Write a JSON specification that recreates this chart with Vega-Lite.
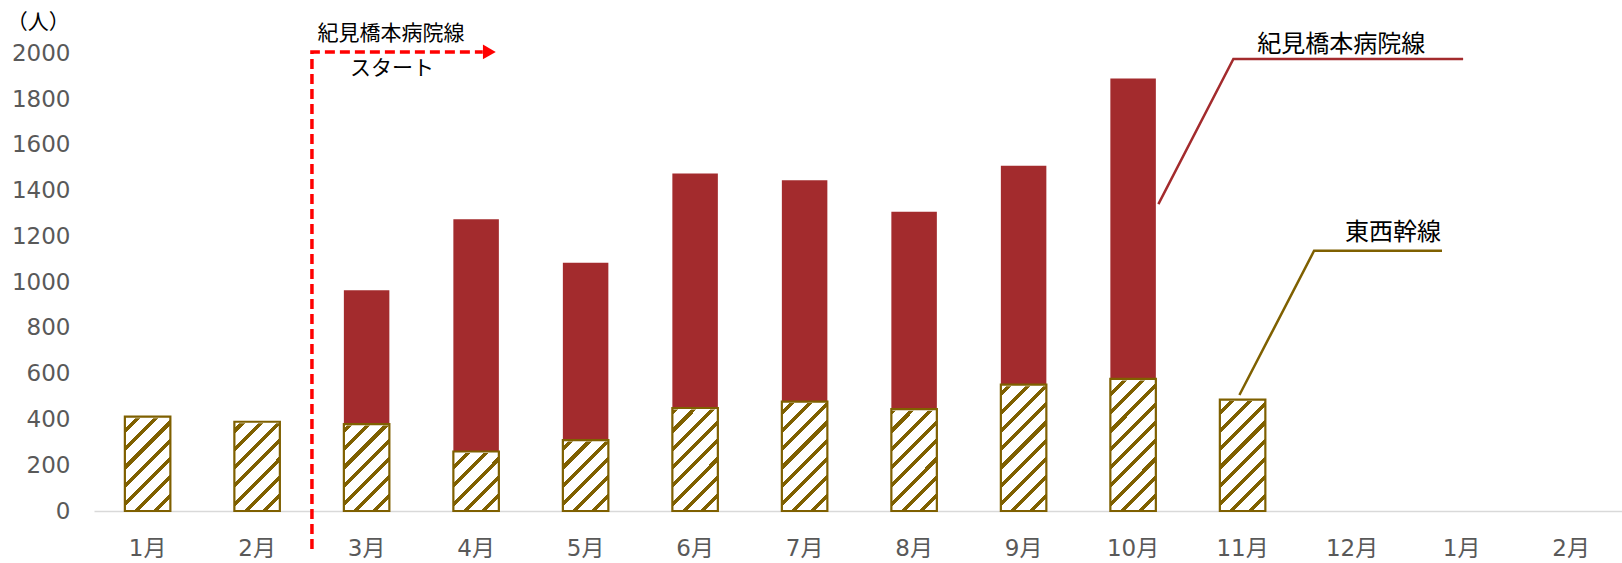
{
  "$schema": "https://vega.github.io/schema/vega-lite/v6.json",
  "width": 1528,
  "height": 457.7,
  "autosize": {"type": "none"},
  "padding": {"left": 94, "top": 53.3, "right": 0, "bottom": 52},
  "background": "white",
  "config": {"view": {"stroke": null}},
  "datasets": {
    "bars": [
      {"m": "1月", "line": "東西幹線", "v": 412},
      {"m": "2月", "line": "東西幹線", "v": 390},
      {"m": "3月", "line": "東西幹線", "v": 380},
      {"m": "3月", "line": "紀見橋本病院線", "v": 585},
      {"m": "4月", "line": "東西幹線", "v": 260},
      {"m": "4月", "line": "紀見橋本病院線", "v": 1015},
      {"m": "5月", "line": "東西幹線", "v": 310},
      {"m": "5月", "line": "紀見橋本病院線", "v": 775},
      {"m": "6月", "line": "東西幹線", "v": 450},
      {"m": "6月", "line": "紀見橋本病院線", "v": 1025},
      {"m": "7月", "line": "東西幹線", "v": 478},
      {"m": "7月", "line": "紀見橋本病院線", "v": 967},
      {"m": "8月", "line": "東西幹線", "v": 445},
      {"m": "8月", "line": "紀見橋本病院線", "v": 863},
      {"m": "9月", "line": "東西幹線", "v": 552},
      {"m": "9月", "line": "紀見橋本病院線", "v": 957},
      {"m": "10月", "line": "東西幹線", "v": 577},
      {"m": "10月", "line": "紀見橋本病院線", "v": 1313},
      {"m": "11月", "line": "東西幹線", "v": 487}
    ]
  },
  "resolve": {"scale": {"x": "independent"}, "axis": {"x": "independent"}},
  "layer": [
    {
      "data": {"name": "bars"},
      "encoding": {
        "x": {
          "field": "m",
          "type": "nominal",
          "title": null,
          "scale": {
            "domain": ["1月", "2月", "3月", "4月", "5月", "6月", "7月", "8月", "9月", "10月", "11月", "12月", "1月_2", "2月_2"],
            "paddingInner": 0.5845,
            "paddingOuter": 0.2695,
            "align": 0.523
          },
          "axis": {
            "labelExpr": "split(datum.label, '_')[0]",
            "labelAngle": 0,
            "ticks": false,
            "domainColor": "#D9D9D9",
            "domainWidth": 1.5,
            "labelColor": "#595959",
            "labelFont": "DejaVu Sans, Noto Sans CJK JP",
            "labelFontSize": 23,
            "labelPadding": 26
          }
        }
      },
      "layer": [
        {
          "transform": [{"filter": "datum.line === '東西幹線'"}],
          "mark": {
            "type": "bar",
            "clip": false,
            "fill": {
              "gradient": "linear",
              "x1": 0, "y1": 0, "x2": 0.3979, "y2": 1.1996,
              "stops": [
                {"offset": 0.0, "color": "#7F6000"}, {"offset": 0.028, "color": "#7F6000"}, {"offset": 0.028, "color": "#FFFFFF"}, {"offset": 0.1, "color": "#FFFFFF"},
                {"offset": 0.1, "color": "#7F6000"}, {"offset": 0.128, "color": "#7F6000"}, {"offset": 0.128, "color": "#FFFFFF"}, {"offset": 0.2, "color": "#FFFFFF"},
                {"offset": 0.2, "color": "#7F6000"}, {"offset": 0.228, "color": "#7F6000"}, {"offset": 0.228, "color": "#FFFFFF"}, {"offset": 0.3, "color": "#FFFFFF"},
                {"offset": 0.3, "color": "#7F6000"}, {"offset": 0.328, "color": "#7F6000"}, {"offset": 0.328, "color": "#FFFFFF"}, {"offset": 0.4, "color": "#FFFFFF"},
                {"offset": 0.4, "color": "#7F6000"}, {"offset": 0.428, "color": "#7F6000"}, {"offset": 0.428, "color": "#FFFFFF"}, {"offset": 0.5, "color": "#FFFFFF"},
                {"offset": 0.5, "color": "#7F6000"}, {"offset": 0.528, "color": "#7F6000"}, {"offset": 0.528, "color": "#FFFFFF"}, {"offset": 0.6, "color": "#FFFFFF"},
                {"offset": 0.6, "color": "#7F6000"}, {"offset": 0.628, "color": "#7F6000"}, {"offset": 0.628, "color": "#FFFFFF"}, {"offset": 0.7, "color": "#FFFFFF"},
                {"offset": 0.7, "color": "#7F6000"}, {"offset": 0.728, "color": "#7F6000"}, {"offset": 0.728, "color": "#FFFFFF"}, {"offset": 0.8, "color": "#FFFFFF"},
                {"offset": 0.8, "color": "#7F6000"}, {"offset": 0.828, "color": "#7F6000"}, {"offset": 0.828, "color": "#FFFFFF"}, {"offset": 0.9, "color": "#FFFFFF"},
                {"offset": 0.9, "color": "#7F6000"}, {"offset": 0.928, "color": "#7F6000"}, {"offset": 0.928, "color": "#FFFFFF"}, {"offset": 1.0, "color": "#FFFFFF"}
              ]
            }
          },
          "encoding": {
            "y": {
              "datum": 600,
              "type": "quantitative",
              "title": null,
              "scale": {"domain": [0, 2000], "nice": false, "zero": true},
              "axis": {
                "values": [0, 200, 400, 600, 800, 1000, 1200, 1400, 1600, 1800, 2000],
                "format": "d",
                "ticks": false,
                "domain": false,
                "grid": false,
                "labelColor": "#595959",
                "labelFont": "DejaVu Sans",
                "labelFontSize": 23,
                "labelPadding": 24
              }
            },
            "y2": {"datum": 0}
          }
        },
        {
          "transform": [{"filter": "datum.line === '東西幹線'"}],
          "mark": {"type": "bar", "fill": "#FFFFFF", "stroke": "#FFFFFF", "strokeWidth": 3, "clip": false},
          "encoding": {
            "y": {"field": "v", "type": "quantitative", "title": null},
            "y2": {"datum": 625}
          }
        },
        {
          "mark": {"type": "bar", "clip": false},
          "encoding": {
            "y": {"field": "v", "type": "quantitative", "stack": "zero", "title": null},
            "detail": {"field": "line"},
            "order": {"field": "line", "sort": "ascending"},
            "fill": {
              "condition": {"test": "datum.line === '東西幹線'", "value": "transparent"},
              "value": "#A32B2D"
            }
          }
        },
        {
          "transform": [{"filter": "datum.line === '東西幹線'"}],
          "mark": {"type": "bar", "fill": "transparent", "stroke": "#7F6000", "strokeWidth": 2.2, "clip": false},
          "encoding": {
            "y": {"field": "v", "type": "quantitative", "title": null},
            "y2": {"datum": 0}
          }
        }
      ]
    },
    {
      "encoding": {
        "x": {
          "field": "q",
          "type": "quantitative",
          "scale": {"domain": [-0.4904, 13.464], "nice": false, "zero": false},
          "axis": null
        }
      },
      "layer": [
        {
          "data": {"values": [
            {"k": 0, "q": 1.5, "v": -166},
            {"k": 1, "q": 1.5, "v": 2006},
            {"k": 2, "q": 3.06, "v": 2006}
          ]},
          "mark": {"type": "line", "color": "#FF0000", "strokeWidth": 3.5, "strokeDash": [10, 5], "clip": false},
          "encoding": {
            "y": {"field": "v", "type": "quantitative", "title": null},
            "order": {"field": "k"}
          }
        },
        {
          "data": {"values": [{"q": 3.12, "v": 2006}]},
          "mark": {"type": "point", "shape": "triangle-right", "filled": true, "color": "#FF0000", "size": 220, "opacity": 1, "clip": false},
          "encoding": {
            "y": {"field": "v", "type": "quantitative", "title": null}
          }
        },
        {
          "data": {"values": [
            {"g": "紀見橋本病院線", "k": 0, "q": 9.23, "v": 1341},
            {"g": "紀見橋本病院線", "k": 1, "q": 9.915, "v": 1975},
            {"g": "紀見橋本病院線", "k": 2, "q": 12.013, "v": 1975},
            {"g": "東西幹線", "k": 0, "q": 9.97, "v": 507},
            {"g": "東西幹線", "k": 1, "q": 10.652, "v": 1137},
            {"g": "東西幹線", "k": 2, "q": 11.82, "v": 1137}
          ]},
          "mark": {"type": "line", "strokeWidth": 2.5, "clip": false},
          "encoding": {
            "y": {"field": "v", "type": "quantitative", "title": null},
            "color": {
              "field": "g",
              "type": "nominal",
              "scale": {"domain": ["紀見橋本病院線", "東西幹線"], "range": ["#A32B2D", "#7F6000"]},
              "legend": null
            },
            "order": {"field": "k"}
          }
        },
        {
          "data": {"values": [
            {"t": "紀見橋本病院線", "q": 2.223, "v": 2086},
            {"t": "スタート", "q": 2.232, "v": 1933}
          ]},
          "mark": {"type": "text", "font": "Noto Sans CJK JP", "fontSize": 21, "color": "#000000", "align": "center", "baseline": "middle", "clip": false},
          "encoding": {
            "y": {"field": "v", "type": "quantitative", "title": null},
            "text": {"field": "t"}
          }
        },
        {
          "data": {"values": [
            {"t": "紀見橋本病院線", "q": 10.9, "v": 2038},
            {"t": "東西幹線", "q": 11.373, "v": 1216}
          ]},
          "mark": {"type": "text", "font": "Noto Sans CJK JP", "fontSize": 24, "color": "#000000", "align": "center", "baseline": "middle", "clip": false},
          "encoding": {
            "y": {"field": "v", "type": "quantitative", "title": null},
            "text": {"field": "t"}
          }
        },
        {
          "data": {"values": [
            {"t": "（人）", "q": -1.0, "v": 2134}
          ]},
          "mark": {"type": "text", "font": "Noto Sans CJK JP", "fontSize": 21, "color": "#000000", "align": "center", "baseline": "middle", "clip": false},
          "encoding": {
            "y": {"field": "v", "type": "quantitative", "title": null},
            "text": {"field": "t"}
          }
        }
      ]
    }
  ]
}
